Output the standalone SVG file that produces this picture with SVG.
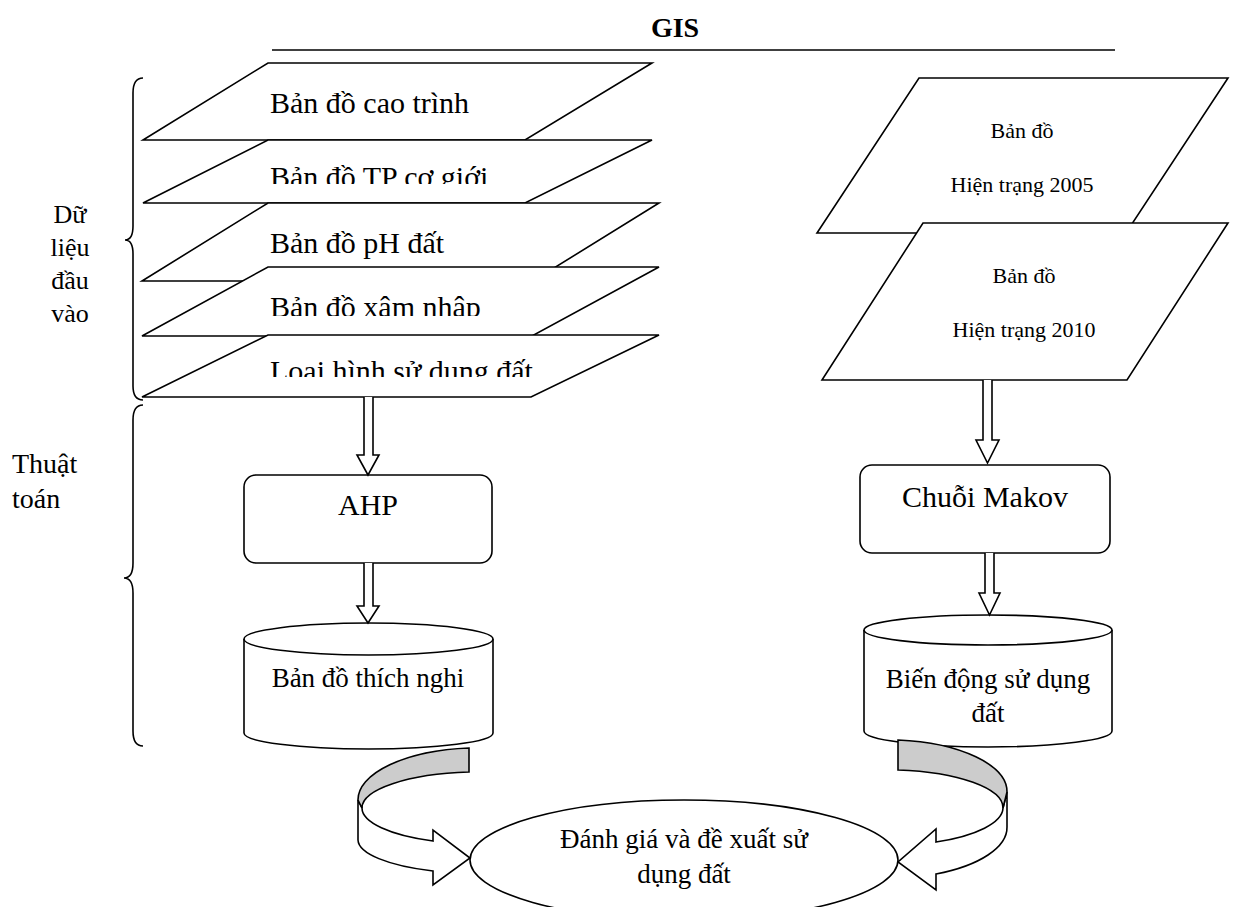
<svg xmlns="http://www.w3.org/2000/svg" width="1238" height="907" viewBox="0 0 1238 907">
<style>
.s{fill:#fff;stroke:#000;stroke-width:1.6;stroke-linejoin:miter}
.g{fill:#cccccc;stroke:#000;stroke-width:1.6}
.n{fill:none;stroke:#000;stroke-width:1.6}
.t{font-family:"Liberation Serif","Times New Roman",serif;fill:#000}
.big{font-size:30px}
.mid{font-size:27px}
.sm{font-size:22px}
.c{text-anchor:middle}
</style>
<defs>
<clipPath id="c2"><rect x="250" y="140" width="420" height="44"/></clipPath>
<clipPath id="c4"><rect x="250" y="267" width="420" height="49"/></clipPath>
<clipPath id="c5"><rect x="250" y="335" width="420" height="42"/></clipPath>
</defs>
<rect width="1238" height="907" fill="#fff"/>

<g id="title">
<text class="t c" x="675" y="37" font-size="28" font-weight="bold">GIS</text>
<line class="n" x1="272" y1="50" x2="1115" y2="50"/>
</g>

<g id="brace-input">
<path class="n" d="M143,78 C136,78 133,83 133,93 L133,226 C133,235 130,240 125,240 C130,240 133,245 133,254 L133,386 C133,395 136,400 143,400"/>
<text class="t c" font-size="26"><tspan x="70" y="223">Dữ</tspan><tspan x="70" y="256">liệu</tspan><tspan x="70" y="289">đầu</tspan><tspan x="70" y="322">vào</tspan></text>
</g>
<g id="brace-algo">
<path class="n" d="M143,405 C136,405 133,410 133,420 L133,563 C133,572 130,578 124,578 C130,578 133,584 133,593 L133,731 C133,741 136,746 143,746"/>
<text class="t" font-size="28"><tspan x="12" y="473">Thuật</tspan><tspan x="12" y="508">toán</tspan></text>
</g>

<g id="layer1">
<polygon class="s" points="268,63 652,63 525,140 143,140"/>
<text class="t big" x="270" y="113">Bản đồ cao trình</text>
</g>
<g id="layer2">
<polygon class="s" points="268,140 652,140 525,203 143,203"/>
<text class="t big" x="270" y="187" clip-path="url(#c2)">Bản đồ TP cơ giới</text>
</g>
<g id="layer3">
<polygon class="s" points="268,203 659,203 533,281 142,281"/>
<text class="t big" x="270" y="253">Bản đồ pH đất</text>
</g>
<g id="layer4">
<polygon class="s" points="268,267 659,267 532,336 142,336"/>
<text class="t big" x="270" y="317" clip-path="url(#c4)">Bản đồ xâm nhập</text>
</g>
<g id="layer5">
<polygon class="s" points="268,335 659,335 531,397 142,397"/>
<text class="t big" x="270" y="381" clip-path="url(#c5)">Loại hình sử dụng đất</text>
</g>

<g id="map2005">
<polygon class="s" points="919,78 1228,78 1126,233 817,233"/>
<text class="t sm c" x="1022" y="138">Bản đồ</text>
<text class="t sm c" x="1022" y="192">Hiện trạng 2005</text>
</g>
<g id="map2010">
<polygon class="s" points="923,223 1228,223 1127,380 822,380"/>
<text class="t sm c" x="1024" y="283">Bản đồ</text>
<text class="t sm c" x="1024" y="337">Hiện trạng 2010</text>
</g>

<g id="ahp">
<rect class="s" x="244" y="475" width="248" height="88" rx="12"/>
<text class="t big c" x="368" y="515">AHP</text>
</g>
<g id="makov">
<rect class="s" x="860" y="465" width="250" height="88" rx="12"/>
<text class="t big c" x="985" y="507">Chuỗi Makov</text>
</g>

<g id="suitability">
<path class="s" d="M244,639 L244,733 A124.5,16 0 0 0 493,733 L493,639"/>
<ellipse class="s" cx="368.5" cy="639" rx="124.5" ry="16"/>
<text class="t mid c" x="368" y="687">Bản đồ thích nghi</text>
</g>
<g id="change">
<path class="s" d="M864,630 L864,731 A124,16 0 0 0 1112,731 L1112,630"/>
<ellipse class="s" cx="988" cy="630" rx="124" ry="15"/>
<text class="t mid c" x="988" y="688">Biến động sử dụng</text>
<text class="t mid c" x="988" y="722">đất</text>
</g>

<g id="result">
<ellipse class="s" cx="684" cy="860" rx="214" ry="60"/>
<text class="t mid c" x="684" y="848">Đánh giá và đề xuất sử</text>
<text class="t mid c" x="684" y="883">dụng đất</text>
</g>

<g id="connectors">
<path class="s" d="M364,397 L364,455 L357,455 L368,475 L379,455 L373,455 L373,397"/>
<path class="s" d="M364,563 L364,606 L357,606 L368,623 L379,606 L373,606 L373,563"/>
<path class="s" d="M983,380 L983,440 L976,440 L987.5,463 L999,440 L992,440 L992,380"/>
<path class="s" d="M985,553 L985,593 L979,593 L989.5,615 L1000,593 L994,593 L994,553"/>
<path class="s" d="M358,800 L358,840 A122,34 0 0 0 433,871 L433,885 L470,858 L433,830 L433,841 A118,36 0 0 1 362,808 Z"/>
<path class="g" d="M469,748 A122,52 0 0 0 358,800 L362,808 A118,36 0 0 1 469,772 Z"/>
<path class="s" d="M1007,792 L1007,827 A120,51 0 0 1 936,874 L936,890 L898,862 L936,829 L936,842 A116,38 0 0 0 1003,808 Z"/>
<path class="g" d="M898,740 A120,52 0 0 1 1007,792 L1003,808 A116,38 0 0 0 898,770 Z"/>
</g>
</svg>
